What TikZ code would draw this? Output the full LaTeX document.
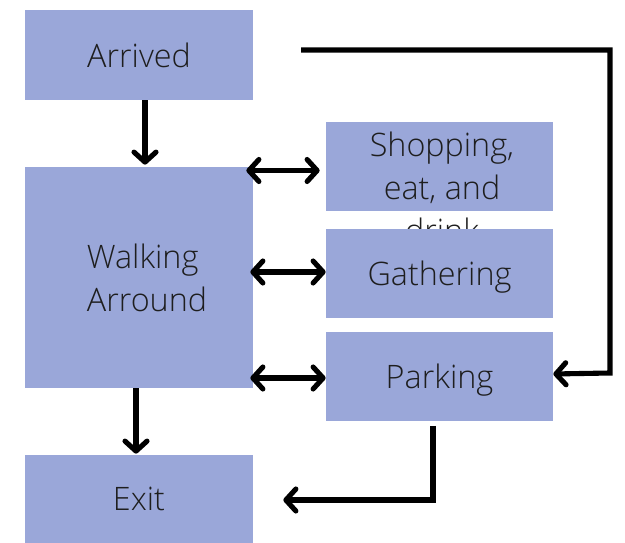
\documentclass[tikz,border=0pt]{standalone}
\usepackage{fontspec}
\setmainfont{Open Sans}[UprightFont=* Light]
\usepackage{tikz}
\usetikzlibrary{arrows.meta, positioning, calc}
\definecolor{sbox}{HTML}{9AA7D9}
\definecolor{stext}{HTML}{1E1E1E}
\tikzset{
  stepbox/.style={draw=none, fill=sbox, minimum width=4.56cm, minimum height=1.8cm,
                  inner sep=0pt, font=\fontsize{18.4}{24}\selectfont, text=stext, align=center,
                  text depth=0pt},
  arr/.style={-{Straight Barb[length=2mm,width=4.4mm,line cap=round,line join=round]},
              line width=2.9pt, black},
  darr/.style={{Straight Barb[length=2mm,width=4.4mm,line cap=round,line join=round]}-{Straight Barb[length=2mm,width=4.4mm,line cap=round,line join=round]},
               line width=2.9pt, black},
}

\begin{document}
\begin{tikzpicture}[x=0.02cm, y=-0.02cm]
    \useasboundingbox (0,0) rectangle (625,543);
    \node[stepbox] (arrived) at (139,55) {Arrived};
    \node[stepbox, minimum height=4.42cm, align=left, font=\fontsize{18.4}{24.5}\selectfont] (walk) at (139,277.5)
      {\hspace*{0.32cm}Walking\\\hspace*{0.32cm}Arround};
    \node[stepbox, minimum height=1.76cm] (exit) at (139,499) {Exit};
    \node[stepbox, minimum width=4.54cm] (shop) at (439.5,166.5) {};
    \node[font=\fontsize{18.4}{24.5}\selectfont, text=stext, align=center] (shoptext) at (442,187) {Shopping,\\eat, and\\drink};
    \node[stepbox, minimum width=4.54cm] (gather) at (439.5,273.5) {Gathering};
    \node[stepbox, minimum width=4.54cm] (park) at (439.5,376.5) {Parking};
    \coordinate (start) at (301,50);

    \draw[arr] ([xshift=0.12cm]arrived.south) -- ([xshift=0.12cm,yshift=0.04cm]walk.north);
    \draw[arr] ([xshift=-0.06cm]walk.south) -- ([xshift=-0.06cm,yshift=0.02cm]exit.north);
    \draw[darr, shorten <=-0.14cm, shorten >=0.12cm] ([yshift=-0.08cm]walk.east |- shop) -- ([yshift=-0.08cm]shop.west);
    \draw[darr, shorten <=-0.06cm] ([yshift=0.03cm]walk.east |- gather) -- ([yshift=0.03cm]gather.west);
    \draw[darr, shorten <=-0.06cm] ([yshift=-0.03cm]walk.east |- park) -- ([yshift=-0.03cm]park.west);
    \draw[arr, line join=miter] (start) -- (610,50) -- (610,373) -- ([yshift=0.05cm]park.east);
    \draw[arr, line join=miter] ([xshift=-0.13cm,yshift=-0.08cm]park.south) |- ([xshift=0.6cm,yshift=-0.02cm]exit.east);
\end{tikzpicture}
\end{document}
